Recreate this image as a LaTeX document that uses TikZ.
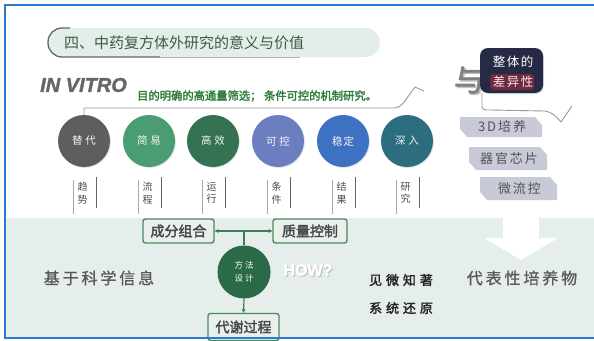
\documentclass[tikz,border=0pt]{standalone}
\usepackage{fontspec}
\usetikzlibrary{shadows,arrows.meta}
\setmainfont{Liberation Sans}
\newfontfamily\heavy{Liberation Sans}[FakeBold=1.5]
\newfontfamily\cjk{Noto Sans CJK SC}
\newfontfamily\cjkm{Noto Sans CJK SC}[FakeBold=0.8]
\newfontfamily\cjkb{Noto Sans CJK SC}[FakeBold=2.2]
\definecolor{framec}{HTML}{2A7BD4}
\definecolor{panelc}{HTML}{E5EEEA}
\definecolor{pillc}{HTML}{E4EEE8}
\definecolor{titlec}{HTML}{3C5A4C}
\definecolor{greentx}{HTML}{2F7D3B}
\definecolor{cA}{HTML}{5E5E5E}
\definecolor{cB}{HTML}{4A9C72}
\definecolor{cC}{HTML}{357253}
\definecolor{cD}{HTML}{6C7EC0}
\definecolor{cE}{HTML}{3F71C2}
\definecolor{cF}{HTML}{2D6D80}
\definecolor{darkbx}{HTML}{262A45}
\definecolor{glowc}{HTML}{6E2A40}
\definecolor{tagc}{HTML}{C9CAD8}
\definecolor{gboxc}{HTML}{4A8A60}
\definecolor{gboxf}{HTML}{E9F0EC}
\definecolor{methc}{HTML}{2B6A46}
\definecolor{glinec}{HTML}{3D7D55}
\begin{document}
\begin{tikzpicture}[x=1pt,y=-1pt,
  circ/.style={circle,minimum size=52pt,inner sep=0pt,text=white!92!gray,
    font=\cjk\fontsize{10.5}{11}\selectfont,
    drop shadow={opacity=0.2,shadow xshift=1pt,shadow yshift=-1pt}},
  vlab/.style={align=center,inner sep=0pt,text=black!70,
    font=\cjk\fontsize{10}{12.5}\selectfont},
  lline/.style={draw=black!35,line width=0.7pt},
  rline/.style={draw=black!60,line width=1pt},
  bracket/.style={draw=black!40,line width=0.9pt},
  tagtext/.style={inner sep=0pt,text=black!68,
    font=\cjk\fontsize{13}{13}\selectfont\addfontfeature{LetterSpace=15}},
  gbox/.style={draw=gboxc,line width=1.4pt,fill=gboxf,rounded corners=2.5pt,
    minimum height=24pt,inner sep=0pt,text=black!72,
    font=\cjkb\fontsize{14}{14}\selectfont},
  gline/.style={draw=glinec,line width=1.2pt},
  garrow/.style={gline,-{Stealth[length=4pt,width=4pt]}},
  bigtx/.style={inner sep=0pt,text=black!65,
    font=\cjkm\fontsize{16}{16}\selectfont\addfontfeature{LetterSpace=18}},
  midtx/.style={inner sep=0pt,text=black!85,
    font=\cjkb\fontsize{13}{13}\selectfont\addfontfeature{LetterSpace=30}}
]
\useasboundingbox (0,0) rectangle (594,340);
\fill[white] (0,0) rectangle (594,340);
% lower panel and white down arrow
\fill[panelc] (6,218) rectangle (594,338);
\fill[white] (503,217) -- (539,217) -- (539,238) -- (558,238) -- (521,260)
  -- (484,238) -- (503,238) -- cycle;

% title pill
\fill[pillc,rounded corners=14.5pt] (48,28) rectangle (380,57);
\draw[black!60,line width=1.3pt,rounded corners=14pt] (70,28) -- (48,28) -- (48,57) -- (160,57);
\draw[black!30,line width=1pt] (160,57) -- (300,57);
\node (titletext) [anchor=west,inner sep=0pt,text=titlec,
  font=\cjk\fontsize{15}{15}\selectfont] at (64,43) {四、中药复方体外研究的意义与价值};

% IN VITRO line
\node (invitro) [anchor=west,inner sep=0pt,text=black!60,
  font=\heavy\fontsize{20}{20}\selectfont\bfseries\itshape] at (40,85) {IN VITRO};
\node (aim) [anchor=west,inner sep=0pt,text=greentx,
  font=\cjkb\fontsize{11.3}{12}\selectfont] at (137,96) {目的明确的高通量筛选； 条件可控的机制研究。};

% circles
\node[circ,fill=cA] (c1) at (84,141) {替\hspace{3pt}代};
\node[circ,fill=cB] (c2) at (149,141) {简\hspace{3pt}易};
\node[circ,fill=cC] (c3) at (213,141) {高\hspace{3pt}效};
\node[circ,fill=cD] (c4) at (278,141) {可\hspace{3pt}控};
\node[circ,fill=cE] (c5) at (343,141) {稳\hspace{1pt}定};
\node[circ,fill=cF] (c6) at (407,141) {深\hspace{3pt}入};

% bracket from circles up to the right
\draw[bracket] (c1.north) -- (84,108) -- (394,108)
  .. controls (402,108) and (405,100) .. (415,87) -- (424,91);

% vertical labels
\foreach \cx/\nm/\tx in {84/l1/趋\\势, 149/l2/流\\程, 213/l3/运\\行,
                         278/l4/条\\件, 343/l5/结\\果, 407/l6/研\\究}{
  \draw[lline] (\cx-11,180) -- (\cx-11,214);
  \draw[rline] (\cx+12,177) -- (\cx+12,208);
  \node[vlab] (\nm) at (\cx-1.5,193) {\tx};
}

% 与 and dark box
\node (yushadow) [inner sep=0pt,text=black!25,font=\cjkb\fontsize{30}{30}\selectfont] at (470.5,81.5) {与};
\node (yu) [inner sep=0pt,text=black!50,font=\cjkb\fontsize{30}{30}\selectfont] at (469,80) {与};
\node (whole) [fill=darkbx,rounded corners=8pt,minimum width=63pt,minimum height=45pt,
  drop shadow={opacity=0.25,shadow xshift=1pt,shadow yshift=-1pt}] at (511.5,70.5) {};
\node (glow) [fill=glowc,rounded corners=3pt,minimum width=44pt,minimum height=16pt] at (512,82) {};
\node (whole1) [inner sep=0pt,text=white,
  font=\cjk\fontsize{12.5}{13}\selectfont\addfontfeature{LetterSpace=12}] at (513,62) {整体的};
\node (whole2) [inner sep=0pt,text=white!90!red,
  font=\cjk\fontsize{12.5}{13}\selectfont\addfontfeature{LetterSpace=12}] at (513,82) {差异性};
\draw[bracket] (482,93) -- (482,106) .. controls (482,110) and (484,110) .. (490,110)
  -- (545,111) .. controls (552,112) and (557,117) .. (561,122) -- (572,106);

% tags
\newcommand\tagbox[6]{%
  \fill[tagc] (#2,#3) -- ({#4-7},#3) -- (#4,{#3+8}) -- (#4,#5) -- ({#2+7},#5)
    -- (#2,{#5-8}) -- cycle;
  \node[tagtext] (#1) at ({(#2+#4)/2+1},{(#3+#5)/2}) {#6};}
\tagbox{t1}{460}{117}{542}{137}{3D培养}
\tagbox{t2}{469}{147}{547}{170}{器官芯片}
\tagbox{t3}{480}{177}{557}{200}{微流控}

% method diagram
\node[gbox,minimum width=71pt] (cf) at (178.5,231) {成分组合};
\node[gbox,minimum width=74pt] (zl) at (310,231) {质量控制};
\node[gbox,minimum width=71pt,minimum height=27pt] (dx) at (243.5,327) {代谢过程};
\node[circle,fill=methc,minimum size=53pt,inner sep=0pt,align=center,text=white,
  font=\cjk\fontsize{8.5}{13}\selectfont] (ff) at (244,272) {方\hspace{2pt}法\\设\hspace{2pt}计};
\coordinate (jn) at (244,231);
\draw[gline] (ff.north) -- (jn);
\draw[garrow] (jn) -- (cf.east);
\draw[garrow] (jn) -- (zl.west);
\draw[garrow] (ff.south) -- (dx.north);

\node (howsh) [inner sep=0pt,text=black!25,font=\heavy\fontsize{16}{16}\selectfont\bfseries] at (309,271) {HOW?};
\node (how) [inner sep=0pt,text=white,font=\heavy\fontsize{16}{16}\selectfont\bfseries] at (308,270) {HOW?};

\node[bigtx] (sci) at (99,278) {基于科学信息};
\node[bigtx] (rep) at (522,278) {代表性培养物};
\node[midtx] (jw) at (401,280) {见微知著};
\node[midtx] (xt) at (401,308) {系统还原};

% frame
\draw[framec,line width=2pt] (594,5) -- (5,5) -- (5,338) -- (594,338);
\end{tikzpicture}
\end{document}
